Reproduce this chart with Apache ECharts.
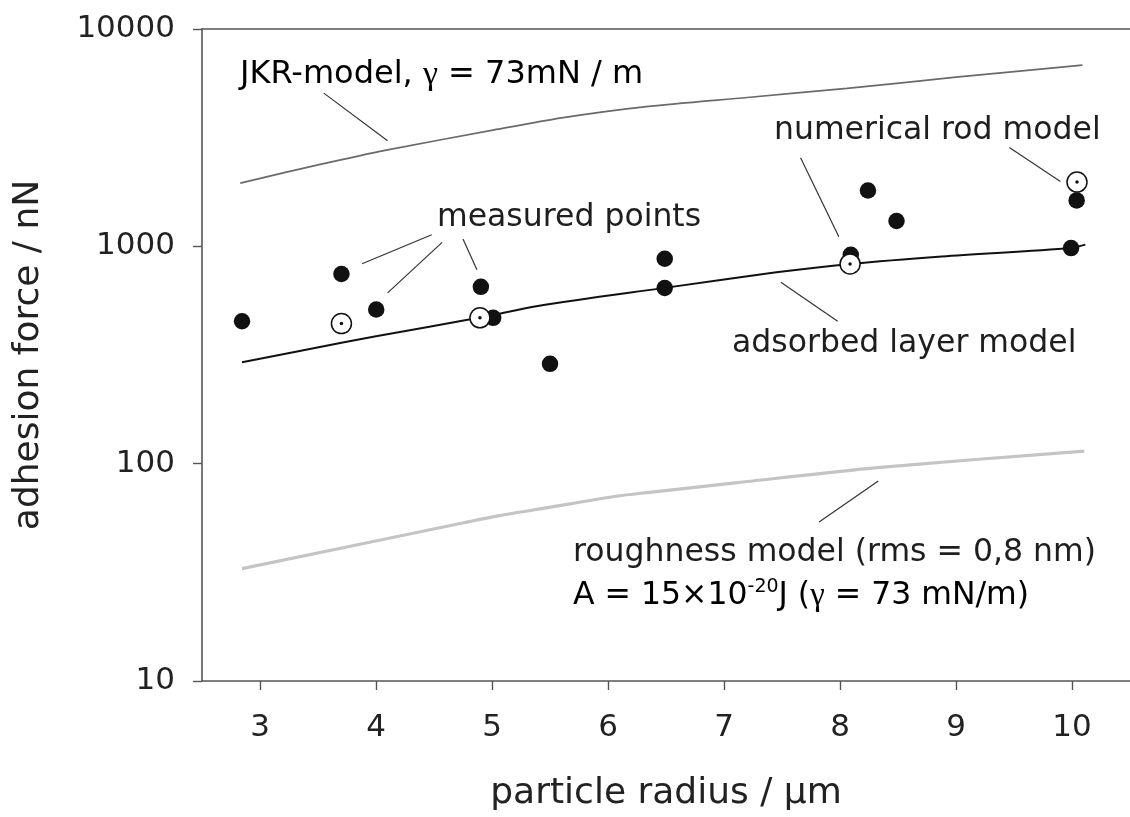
<!DOCTYPE html>
<html>
<head>
<meta charset="utf-8">
<script src="https://cdn.jsdelivr.net/npm/echarts@6/dist/echarts.min.js"></script>
<style>
html,body{margin:0;padding:0;background:#fff;}
#c{width:1130px;height:817px;}
</style>
</head>
<body>
<div id="c"></div>
<script>
// ---- data ----
const xTicks = [3, 4, 5, 6, 7, 8, 9, 10];
const yTicks = [10, 100, 1000, 10000];

// JKR model, gamma = 73 mN/m
const jkrModel = [[2.83, 1954], [3.5, 2370], [4.1, 2780], [5.02, 3434], [5.6, 3900], [6.33, 4393], [7.2, 4840], [8.06, 5334], [9.0, 6000], [10.09, 6826]];
// adsorbed layer model
const adsorbedModel = [[2.845, 293], [3.702, 360], [4.0, 386], [4.896, 470], [5.395, 532], [6.489, 644], [7.451, 759], [8.085, 830], [8.878, 899], [9.992, 983], [10.115, 1018]];
// roughness model (rms = 0,8 nm)
const roughnessModel = [[2.845, 32.9], [4.767, 53.6], [5.052, 57.5], [5.481, 62.8], [6.085, 71.0], [6.337, 73.6], [7.117, 81.8], [8.32, 95.9], [10.106, 114.3]];
// measured points
const measuredPoints = [[2.845, 452], [3.702, 746], [4.002, 512], [4.904, 651], [5.01, 469], [5.5, 288], [6.489, 877], [6.489, 643], [8.093, 915], [8.241, 1807], [8.487, 1308], [9.992, 982], [10.04, 1626]];
// numerical rod model
const rodModelPoints = [[3.702, 441], [4.896, 469], [8.087, 830], [10.043, 1976]];

// annotation leader lines (data coordinates)
const leaderLines = [
  [[3.55, 5070], [4.10, 3060]],
  [[4.48, 1131], [3.88, 832]],
  [[4.57, 1043], [4.10, 611]],
  [[4.75, 1081], [4.87, 781]],
  [[7.66, 2555], [7.99, 1108]],
  [[9.46, 2849], [9.90, 1988]],
  [[7.49, 683], [7.98, 452]],
  [[8.33, 83.2], [7.82, 53.9]]
];

const FONT = "'DejaVu Sans', sans-serif";
const SERIF = "'Liberation Serif', 'DejaVu Serif', serif";
const TXT = '#1e1e1e';
const AX = '#555';

const chart = echarts.init(document.getElementById('c'), null, {renderer: 'canvas'});

const annotStyle = {fontFamily: FONT, fontSize: 31.5, fill: TXT};

chart.setOption({
  backgroundColor: '#fff',
  animation: false,
  grid: {left: 202, right: -6, top: 29, bottom: 135, containLabel: false},
  xAxis: [{
    type: 'value', min: 2.5, max: 10.5,
    axisLine: {show: true, lineStyle: {color: AX, width: 1.6}},
    axisTick: {show: true, customValues: xTicks, length: 9, lineStyle: {color: AX, width: 1.4}},
    axisLabel: {customValues: xTicks, margin: 31, fontFamily: FONT, fontSize: 31, color: '#222'},
    splitLine: {show: false},
    name: 'particle radius / µm', nameLocation: 'middle', nameGap: 95,
    nameTextStyle: {fontFamily: FONT, fontSize: 36, color: '#222'}
  }, {
    type: 'value', min: 2.5, max: 10.5, position: 'top',
    axisLine: {show: true, lineStyle: {color: AX, width: 1.6}},
    axisTick: {show: false}, axisLabel: {show: false}, splitLine: {show: false}
  }],
  yAxis: {
    type: 'log', logBase: 10, min: 10, max: 10000,
    axisLine: {show: true, lineStyle: {color: AX, width: 1.6}},
    axisTick: {show: true, length: 9, lineStyle: {color: AX, width: 1.4}},
    axisLabel: {margin: 27, fontFamily: FONT, fontSize: 31, color: '#222',
      formatter: function (v) { return String(Math.round(v)); }},
    minorTick: {show: false},
    splitLine: {show: false},
    name: 'adhesion force / nN', nameLocation: 'middle', nameGap: 155,
    nameTextStyle: {fontFamily: FONT, fontSize: 36, color: '#222'}
  },
  series: [
    {type: 'line', name: 'roughness', data: roughnessModel, showSymbol: false, smooth: 0.25,
      lineStyle: {color: '#c4c4c4', width: 3.2}, z: 2, silent: true},
    {type: 'line', name: 'JKR', data: jkrModel, showSymbol: false, smooth: 0.25,
      lineStyle: {color: '#6a6a6a', width: 1.7}, z: 2, silent: true},
    {type: 'line', name: 'adsorbed', data: adsorbedModel, showSymbol: false, smooth: 0.3,
      lineStyle: {color: '#111', width: 2}, z: 3, silent: true},
    {type: 'lines', coordinateSystem: 'cartesian2d', silent: true, z: 3,
      lineStyle: {color: '#333', width: 1.2, opacity: 1},
      data: leaderLines.map(function (c) { return {coords: c}; })},
    {type: 'scatter', name: 'measured', data: measuredPoints, symbol: 'circle', symbolSize: 16.5,
      itemStyle: {color: '#111', opacity: 1}, z: 4, silent: true},
    {type: 'scatter', name: 'rod', data: rodModelPoints, symbol: 'circle', symbolSize: 20,
      itemStyle: {color: '#fff', borderColor: '#111', borderWidth: 1.5, opacity: 1}, z: 5, silent: true},
    {type: 'scatter', name: 'rodDot', data: rodModelPoints, symbol: 'circle', symbolSize: 3.5,
      itemStyle: {color: '#111', opacity: 1}, z: 6, silent: true}
  ],
  graphic: [
    {type: 'text', x: 240, y: 75, z: 10, silent: true,
      style: {text: '{a|JKR-model, }{g|γ}{a| = 73mN / m}', verticalAlign: 'middle', align: 'left',
        rich: {a: {fontFamily: FONT, fontSize: 32, color: TXT}, g: {fontFamily: SERIF, fontSize: 34, color: TXT}}}},
    {type: 'text', x: 774, y: 131, z: 10, silent: true,
      style: Object.assign({text: 'numerical rod model', verticalAlign: 'middle', align: 'left'}, annotStyle)},
    {type: 'text', x: 437, y: 218, z: 10, silent: true,
      style: Object.assign({text: 'measured points', verticalAlign: 'middle', align: 'left'}, annotStyle)},
    {type: 'text', x: 732, y: 344, z: 10, silent: true,
      style: Object.assign({text: 'adsorbed layer model', verticalAlign: 'middle', align: 'left'}, annotStyle)},
    {type: 'text', x: 573, y: 553, z: 10, silent: true,
      style: Object.assign({text: 'roughness model (rms = 0,8 nm)', verticalAlign: 'middle', align: 'left'}, annotStyle)},
    {type: 'text', x: 573, y: 596, z: 10, silent: true,
      style: {text: '{a|A = 15×10}{s|-20}{a|J (}{g|γ}{a| = 73 mN/m)}', verticalAlign: 'middle', align: 'left',
        rich: {a: {fontFamily: FONT, fontSize: 31.5, color: TXT, lineHeight: 36},
               s: {fontFamily: FONT, fontSize: 19, color: TXT, verticalAlign: 'top', lineHeight: 36},
               g: {fontFamily: SERIF, fontSize: 33, color: TXT, lineHeight: 36}}}}
  ]
});
</script>
</body>
</html>
